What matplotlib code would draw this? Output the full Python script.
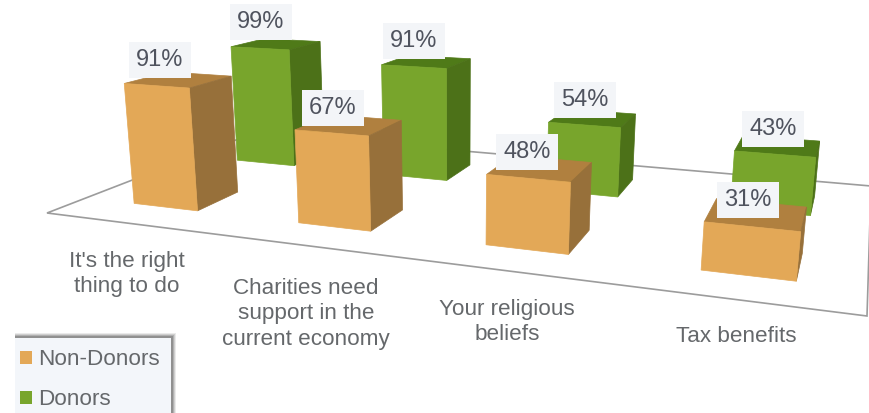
import matplotlib
matplotlib.use("Agg")
import matplotlib.pyplot as plt
import numpy as np
from matplotlib.patches import Patch, Polygon, Rectangle

categories = ["It's the right\nthing to do",
              "Charities need\nsupport in the\ncurrent economy",
              "Your religious\nbeliefs",
              "Tax benefits"]
non_donors = [91, 67, 48, 31]
donors = [99, 91, 54, 43]

# pixel centres of the text, the picture has no real scale for them
cat_pos = [(127, 274), (306, 314), (507, 322), (736, 336)]
non_donor_label_pos = [(160, 60), (333, 108), (527, 152), (748, 200)]
donor_label_pos = [(261, 22), (414, 41), (585, 100), (773, 129)]

plt.rcParams["font.family"] = ["Liberation Sans", "DejaVu Sans"]

# camera: floor corners on screen, and where the verticals meet
FLOOR_WORLD = [(0, 0), (4, 0), (4, 1), (0, 1)]
FLOOR_SCREEN = [(47, 213), (867, 316), (871, 186), (254, 133)]
VERT_VP = (456, 4100)
K = -0.000338


def floor_matrix():
    rows = []
    for (x, y), (u, v) in zip(FLOOR_WORLD, FLOOR_SCREEN):
        rows.append([x, y, 1, 0, 0, 0, -u * x, -u * y, -u])
        rows.append([0, 0, 0, x, y, 1, -v * x, -v * y, -v])
    h = np.linalg.svd(np.array(rows, float))[2][-1].reshape(3, 3)
    return h / h[2, 2]


H = floor_matrix()


def project(x, y, z=0):
    p = H @ np.array([x, y, 1.0])
    d = z * K
    return ((p[0] + d * VERT_VP[0]) / (p[2] + d),
            (p[1] + d * VERT_VP[1]) / (p[2] + d))


def draw_bar(ax, cat, value, y0, y1, front, side, top, z):
    x0, x1 = cat + 0.315, cat + 0.715
    ax.add_patch(Polygon([project(x0, y0, value), project(x1, y0, value),
                          project(x1, y1, value), project(x0, y1, value)],
                         fc=top, ec=top, lw=0.5, zorder=z))
    ax.add_patch(Polygon([project(x1, y0, 0), project(x1, y1, 0),
                          project(x1, y1, value), project(x1, y0, value)],
                         fc=side, ec=side, lw=0.5, zorder=z))
    ax.add_patch(Polygon([project(x0, y0, 0), project(x1, y0, 0),
                          project(x1, y0, value), project(x0, y0, value)],
                         fc=front, ec=front, lw=0.5, zorder=z))


fig = plt.figure(figsize=(8.69, 4.13), dpi=100)
ax = fig.add_axes([0, 0, 1, 1])
ax.set_xlim(0, 869)
ax.set_ylim(413, 0)
ax.axis("off")

ax.add_patch(Polygon(FLOOR_SCREEN, fc="white", ec="#9c9c9c", lw=1.2, zorder=1))

for i, v in enumerate(donors):
    draw_bar(ax, i, v, 0.65, 0.84, "#78a52c", "#4c7118", "#4f7a18", 2 + i * 0.01)
for i, v in enumerate(non_donors):
    draw_bar(ax, i, v, 0.15, 0.34, "#e3a857", "#97703a", "#b0803f", 3 + i * 0.01)

box = dict(fc="#f3f5f8", ec="none", pad=5)
for vals, positions in ((non_donors, non_donor_label_pos), (donors, donor_label_pos)):
    for v, (x, y) in zip(vals, positions):
        ax.text(x, y, f"{v}%", ha="center", va="center", fontsize=17,
                color="#4f535e", bbox=box, zorder=5)

for name, (x, y) in zip(categories, cat_pos):
    ax.text(x, y, name, ha="center", va="center", fontsize=16.2,
            color="#65686b", linespacing=1.3, zorder=5)

# legend box with the soft shadow on top and right
for grow, alpha in ((4, 0.12), (3, 0.18), (2, 0.25), (1, 0.35)):
    ax.add_patch(Rectangle((15, 337 - grow), 157 + grow, 90, fc="#555555",
                           ec="none", alpha=alpha, zorder=6))
ax.add_patch(Rectangle((15, 338), 156, 90, fc="#f3f6fa", ec="none", zorder=7))
handles = [Patch(fc="#e3a857", ec="none", label="Non-Donors"),
           Patch(fc="#78a52c", ec="none", label="Donors")]
leg = ax.legend(handles=handles, loc="upper left", bbox_to_anchor=(0, 329),
                bbox_transform=ax.transData, frameon=False, fontsize=16.2,
                handlelength=0.53, handleheight=0.53, handletextpad=0.27,
                labelspacing=0.85, labelcolor="#65686b")
leg.set_zorder(8)

fig.savefig("out.png", dpi=100)
